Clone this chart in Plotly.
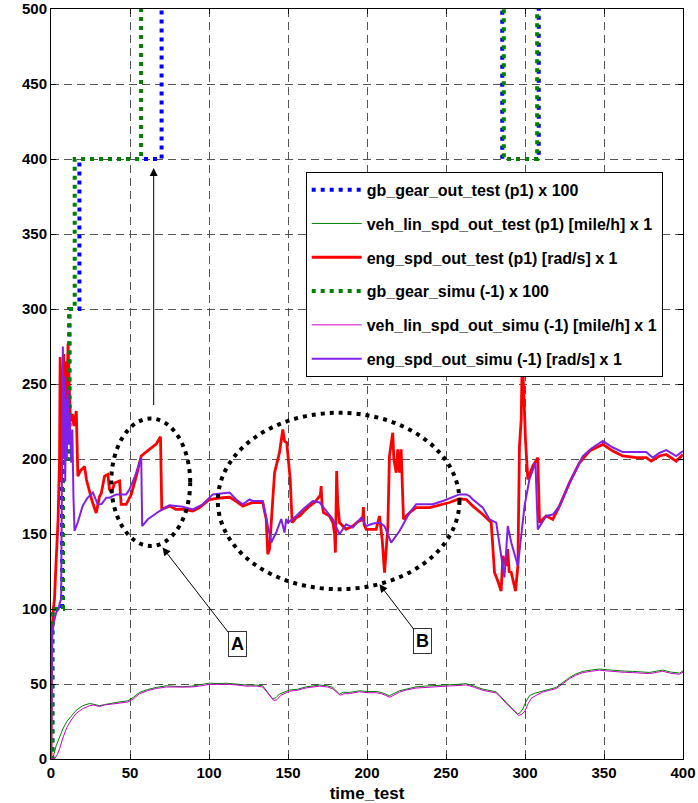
import plotly.graph_objects as go

# ---- gear signals (gear number, plotted x 100) ----
gear_test_t = [0, 0.8, 7, 11.7, 18, 70, 285.6, 308.7, 400]
gear_test = [0, 1, 2, 3, 4, 6, 4, 6, 6]
gear_simu_t = [0, 1.0, 7.6, 11.5, 15, 57, 286.6, 307.7, 400]
gear_simu = [0, 1, 2, 3, 4, 6, 4, 6, 6]
gear_scale = 100

# ---- vehicle linear speed [mile/h] ----
veh_test_t = [0, 1.5, 3.3, 5.5, 7.5, 10, 12.8, 16, 20, 24.4, 27, 30.7, 34, 37, 43, 48.6, 52, 56, 61, 66.6,
              72.9, 78, 83.4, 89, 94, 100.3, 105, 110.9, 117, 123.5, 130, 134, 137.2, 140.4, 142.5, 144.6,
              151, 156, 161.5, 166, 170, 175, 178.4, 182.6, 185, 188.9, 195.3, 200, 205.8, 209, 214.2,
              220.6, 225, 231, 237, 243.8, 252.2, 258, 262.8, 268, 273.3, 281.8, 285, 288.1, 292, 295.4,
              297, 298.6, 300.5, 302.8, 306, 311.3, 315, 319.7, 324, 328.2, 332, 336.6, 342, 347.2, 352,
              357.7, 363, 368.2, 373, 378.8, 383, 387.2, 392, 397.8, 400]
veh_test = [0, 2, 8.9, 15, 20, 25, 28.8, 32.5, 35.5, 37, 36.5, 35.5, 36.3, 37, 38, 38.8, 41, 44.4, 46.3, 47.7,
            48.8, 48.5, 48.1, 48.6, 49.3, 50.6, 50.3, 50.5, 50, 49.3, 49.3, 48.8, 44.4, 40, 41, 43.3,
            46, 46.5, 48.1, 48.5, 49.3, 48.8, 47.7, 43.3, 44.5, 44.4, 45.5, 45, 45, 44.4, 42.2,
            45.5, 46.8, 48.1, 48.6, 48.8, 49.5, 49.8, 50.2, 48.5, 46.6, 44.8, 41.5, 37.7, 33.5, 30,
            31, 33.3, 38, 42.2, 43.8, 45.5, 46.5, 47.7, 51, 54.4, 56.6, 58.4, 59.3, 60, 59.5,
            58.8, 58.6, 58.4, 58.2, 57.7, 58.5, 59.3, 58, 57.3, 58.7]
veh_simu_t = [0, 2.5, 4, 5.5, 7.5, 10, 12.8, 16, 20, 24.4, 27, 30.7, 34, 37, 43, 48.6, 52, 56, 61, 66.6,
              72.9, 78, 83.4, 89, 94, 100.3, 105, 110.9, 117, 123.5, 130, 134, 137.5, 141, 143, 145.5,
              151, 156, 161.5, 166, 170, 175, 178.4, 183, 185.5, 188.9, 195.3, 200, 205.8, 209, 214.5,
              220.6, 225, 231, 237, 243.8, 252.2, 258, 262.8, 268, 273.3, 281.8, 285, 288.1, 292, 296,
              298, 300, 302, 304, 308, 311.3, 315, 319.7, 324, 328.2, 332, 336.6, 342, 347.2, 352,
              357.7, 363, 368.2, 373, 378.8, 383, 387.2, 392, 397.8, 400]
veh_simu = [0, 0.5, 3, 7, 14, 21, 26, 30.5, 33.5, 35.5, 36, 35, 36, 36.5, 37.5, 38, 40, 43.5, 45.5, 47,
            48, 48, 47.5, 48, 48.6, 49.8, 49.7, 49.9, 49.4, 48.6, 48.6, 48, 43.5, 39, 39.5, 42.5,
            45.2, 45.8, 47.4, 47.8, 48.6, 48, 46.8, 42.5, 43.5, 43.6, 44.8, 44.2, 44.2, 43.6, 41.2,
            44.6, 46, 47.3, 47.8, 48, 48.7, 49, 49.4, 47.8, 45.8, 44, 40.8, 37, 32.8, 29,
            29.8, 32, 37, 40.5, 43, 44.6, 45.7, 46.9, 50.2, 53.6, 55.8, 57.6, 58.5, 59.2, 58.7,
            58, 57.8, 57.6, 57.4, 56.9, 57.7, 58.5, 57.2, 56.5, 57.9]

# ---- engine speed [rad/s] ----
eng_test_t = [0, 0.5, 1.5, 2.2, 3.3, 4.5, 5.4, 5.8, 6.3, 6.8, 7.5, 8, 8.6, 9.2, 10, 10.8, 11.5, 12.3, 13.5,
              14.5, 16, 16.6, 17, 18.5, 19.5, 21.2, 22.5, 24.4, 26, 28.6, 30.7, 31.8, 33.9, 36, 37, 38.5,
              40.2, 43.4, 44.4, 47.6, 50.8, 54, 57.1, 62.3, 66.6, 69.3, 70.1, 75, 79, 83.4, 89.7, 94,
              100.3, 106.6, 113, 117, 121.4, 125, 127.7, 134, 136.2, 137.2, 138.3, 139.4, 141.5, 144.6,
              146.7, 147.8, 149.2, 151.4, 152.6, 155.3, 157.3, 160, 163.6, 166.8, 169, 170.5, 171, 171.5,
              172.5, 176.3, 178.4, 179.5, 180, 180.8, 181.5, 182.6, 186.8, 191, 194, 197.3, 197.7, 198.2,
              199.5, 205.8, 207.9, 209.6, 211.1, 213.2, 214.2, 215.5, 216.3, 217, 218.5, 219.5, 220.6,
              221.6, 223.1, 226.9, 231.1, 239.6, 245.9, 252.2, 258.5, 262.8, 267, 273.3, 278.6, 279.6,
              280.7, 282.8, 284.9, 286, 288.1, 289, 290, 291.3, 294, 295.5, 296.5, 297.6, 298.3, 299.2,
              300.3, 301.8, 303.5, 304.9, 308.1, 309.2, 313.4, 317.6, 321.8, 328.2, 334.5, 340.8, 349.2,
              355.6, 361.9, 370.4, 376.7, 379.9, 385.1, 389.4, 395.7, 400]
eng_test = [0, 80, 100, 106.5, 133, 160, 200, 268, 185, 240, 255, 270, 220, 265, 240, 277, 250, 225, 230,
            222, 232, 210, 188.6, 192, 193, 195, 186, 177.6, 172, 164, 175, 177, 188.6, 189.7, 179.8, 178,
            184, 185.3, 169.8, 169.8, 176.4, 188.6, 202, 206.4, 210, 214.8, 166.4, 168.6, 166.5, 166.4, 165.3, 167.6,
            173, 174, 174.5, 172, 168.6, 170, 171, 171, 159.8, 136.5, 140, 157.6, 190.9, 204.2,
            219.7, 212, 210.9, 186.4, 157.6, 161, 162, 165, 168.6, 171, 174, 176, 182, 170,
            164.2, 162, 157.6, 150, 137.6, 192, 170, 157.6, 153.1, 155.3, 158, 159.8, 168, 156,
            153.1, 153.1, 162, 146.5, 124.3, 155.3, 202, 210, 217.5, 200, 190.9, 206.4, 190.9,
            206.4, 159.8, 164.2, 167.6, 167.6, 169.1, 171, 173.5, 173, 168.6, 163, 157.6, 139.8,
            124.3, 118.7, 112, 135.4, 128.7, 140, 125, 124.3, 112, 128.7, 208.6, 226.4, 271, 245,
            213, 186.4, 192, 195.3, 200.9, 157.6, 162, 159.8, 168.6, 184.2, 197.5, 205.3, 209.7,
            205.3, 202, 200.9, 200.9, 198.6, 202, 203, 198.6, 203]
eng_simu_t = [0, 0.7, 2, 3.3, 4.9, 5.5, 6.4, 6.8, 7.2, 7.5, 8, 8.5, 9, 9.5, 10, 10.6, 11.2, 11.8, 12.8, 13.5,
              14.2, 14.9, 17, 20, 23, 26.5, 29.6, 32, 35, 37, 41.3, 47.6, 49.7, 53, 57.1, 57.7, 61.3, 65,
              68.7, 75, 83.4, 89.7, 96.1, 102.4, 106, 110.9, 113, 117.2, 121.4, 125.6, 127.7, 134, 137.2,
              139.4, 142.5, 145.7, 147.8, 148.9, 150, 153, 155.2, 160, 165.7, 170, 174, 178.4, 182.6,
              186.8, 191, 196.3, 199.5, 204, 207.9, 211.1, 215.3, 220.6, 226.9, 231.1, 241.6, 248, 258.5,
              262.8, 264.9, 267, 273.3, 277.5, 281.8, 282.8, 284.9, 287, 289.1, 291.3, 295.5, 299.7,
              302.8, 306.6, 308.1, 313.4, 317.6, 321.8, 328.2, 336.6, 342, 349.2, 355, 361.9, 370, 376.7,
              380.9, 385, 389.4, 395.7, 400]
eng_simu = [0, 84, 92, 97.7, 100, 104, 106.5, 160, 230, 275, 200, 255, 185, 240, 200, 246, 210, 230, 197.5,
            219.7, 175.3, 152, 158, 168.6, 174, 177.6, 169.8, 170, 174.2, 174.2, 176.4, 176.4, 179.8, 188,
            200.9, 155.3, 159.8, 162.5, 165.3, 169.1, 168.2, 166.4, 169.8, 176.4, 176.8, 177.1, 177.6, 173,
            169.8, 173, 172, 172, 155.3, 144.3, 151, 160, 151, 160, 157.6, 160, 162, 167, 172, 171,
            166, 159.8, 149.8, 156.5, 154.3, 160.9, 155.3, 157, 157.6, 155.3, 144.3, 152, 164.2, 169.8,
            169.8, 172, 176.4, 176.4, 175.3, 173, 167.6, 159.8, 157.6, 151, 137.6, 121, 155.3, 144.3,
            128.7, 168.6, 186.4, 197.5, 153.1, 162, 163, 168.6, 184.2, 202, 207, 212, 208, 204.6,
            204.6, 204.6, 200.9, 204, 205.9, 202, 205.3]

names = [
    "gb_gear_out_test (p1) x 100",
    "veh_lin_spd_out_test (p1) [mile/h] x 1",
    "eng_spd_out_test (p1) [rad/s] x 1",
    "gb_gear_simu (-1) x 100",
    "veh_lin_spd_out_simu (-1) [mile/h] x 1",
    "eng_spd_out_simu (-1) [rad/s] x 1",
]

BLUE = "#0000FF"
GREEN = "#008000"
RED = "#FF0000"
MAGENTA = "#CC00CC"
PURPLE = "#8020E8"
DOTS = "4px,5px"
FONT = "Liberation Sans"

fig = go.Figure()


def add(name, t, v, color, width, dash="solid", shape="linear", grp=""):
    fig.add_trace(go.Scatter(
        x=t, y=v, mode="lines", name=name, legendgroup=grp,
        line=dict(color=color, width=width, dash=dash, shape=shape),
    ))


add(names[0], gear_test_t, [g * gear_scale for g in gear_test], BLUE, 4, DOTS, "hv", "g1")
add(names[1], veh_test_t, veh_test, GREEN, 1, grp="g2")
add(names[2], eng_test_t, eng_test, RED, 2.8, grp="g3")
add(names[3], gear_simu_t, [g * gear_scale for g in gear_simu], GREEN, 4, DOTS, "hv", "g4")
add(names[4], veh_simu_t, veh_simu, MAGENTA, 1, grp="g5")
add(names[5], eng_simu_t, eng_simu, PURPLE, 2, grp="g6")

# dotted ellipses marking regions A and B
for (x0, x1, y0, y1) in [(38.1, 88.1, 142, 227), (105.6, 258.5, 113.2, 230.8)]:
    fig.add_shape(type="circle", xref="x", yref="y", x0=x0, x1=x1, y0=y0, y1=y1,
                  line=dict(color="black", width=4, dash=DOTS), layer="above")

# arrow pointing at the gear shift
fig.add_annotation(x=65, y=394, ax=65, ay=235, axref="x", ayref="y", xref="x", yref="y",
                   text="", showarrow=True, arrowhead=2, arrowsize=1.6, arrowwidth=1,
                   arrowcolor="black")

# labelled call-outs
for (lbl, tx, ty, ax, ay) in [("A", 70.6, 141, 118, 76.6), ("B", 207.9, 116.5, 235.3, 78.6)]:
    fig.add_annotation(x=tx, y=ty, ax=ax, ay=ay, axref="x", ayref="y", xref="x", yref="y",
                       text=lbl, showarrow=True, arrowhead=2, arrowsize=1.6, arrowwidth=1,
                       arrowcolor="black", bordercolor="#333333", borderwidth=1, borderpad=2,
                       bgcolor="white",
                       font=dict(family=FONT, size=18, color="black", weight=700))

axis_common = dict(
    showline=True, linecolor="black", linewidth=1, mirror="allticks",
    ticks="inside", ticklen=5, tickcolor="black",
    showgrid=True, gridcolor="#555555", gridwidth=1, griddash="8px,5px",
    zeroline=False, automargin=False,
    tickfont=dict(family=FONT, size=15, color="black", weight=700),
)

fig.update_xaxes(range=[0, 400], dtick=50, tick0=0,
                 title=dict(text="time_test", standoff=9,
                            font=dict(family=FONT, size=17, color="black", weight=700)),
                 **axis_common)
fig.update_yaxes(range=[0, 500], dtick=50, tick0=0, **axis_common)

fig.update_layout(
    width=698, height=803,
    margin=dict(l=51, r=15, t=9, b=44),
    paper_bgcolor="white", plot_bgcolor="white",
    showlegend=True,
    legend=dict(x=0.403, y=0.783, xanchor="left", yanchor="top",
                bgcolor="white", bordercolor="black", borderwidth=1,
                tracegroupgap=10, itemwidth=50,
                font=dict(family=FONT, size=16, color="black", weight=700)),
)

fig.write_html("out.html")
